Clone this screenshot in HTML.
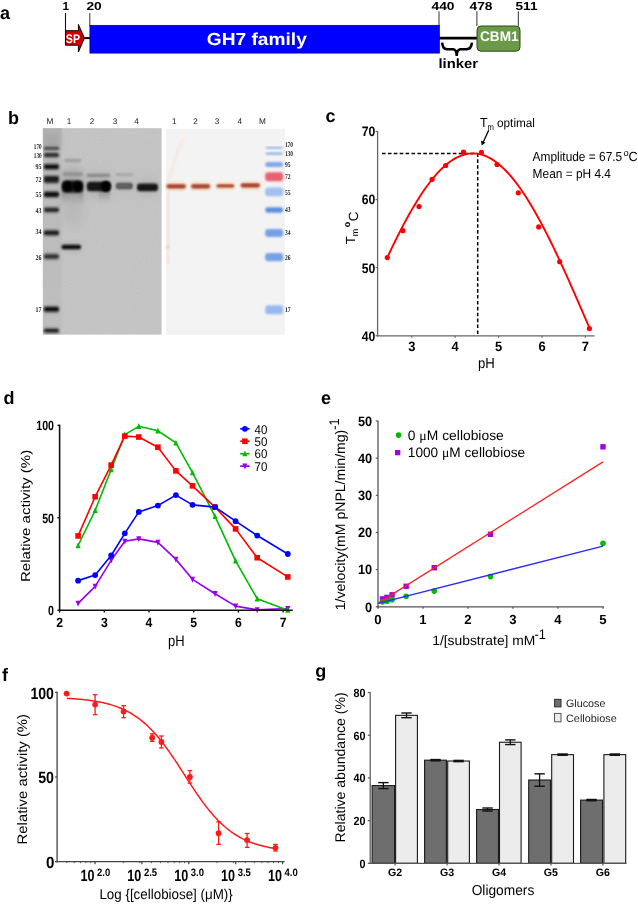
<!DOCTYPE html>
<html><head><meta charset="utf-8"><title>Figure</title>
<style>
html,body{margin:0;padding:0;background:#fff;}
body{width:638px;height:905px;overflow:hidden;}
svg{display:block;will-change:transform;font-family:"Liberation Sans", sans-serif;text-rendering:geometricPrecision;}
</style></head><body>
<svg width="638" height="905" viewBox="0 0 638 905">
<defs>
<filter id="b1" x="-20%" y="-50%" width="140%" height="200%"><feGaussianBlur stdDeviation="0.8"/></filter>
<filter id="b2" x="-20%" y="-80%" width="140%" height="260%"><feGaussianBlur stdDeviation="1.3"/></filter>
<filter id="b3" x="-30%" y="-30%" width="160%" height="160%"><feGaussianBlur stdDeviation="2.5"/></filter>
<filter id="b4" x="-30%" y="-30%" width="160%" height="160%"><feGaussianBlur stdDeviation="4"/></filter>
</defs>
<text x="0.00" y="19.10" font-size="18" font-weight="bold" text-anchor="start" fill="#000" >a</text>
<text x="8.00" y="123.80" font-size="18" font-weight="bold" text-anchor="start" fill="#000" >b</text>
<text x="325.60" y="122.30" font-size="18" font-weight="bold" text-anchor="start" fill="#000" >c</text>
<text x="3.60" y="403.80" font-size="18" font-weight="bold" text-anchor="start" fill="#000" >d</text>
<text x="321.00" y="403.80" font-size="18" font-weight="bold" text-anchor="start" fill="#000" >e</text>
<text x="2.00" y="680.70" font-size="18" font-weight="bold" text-anchor="start" fill="#000" >f</text>
<text x="315.30" y="677.00" font-size="18" font-weight="bold" text-anchor="start" fill="#000" >g</text>
<text x="65.90" y="10.30" font-size="11.6" font-weight="bold" text-anchor="middle" fill="#000" textLength="6.60" lengthAdjust="spacingAndGlyphs" >1</text>
<text x="94.10" y="10.30" font-size="11.6" font-weight="bold" text-anchor="middle" fill="#000" textLength="15.40" lengthAdjust="spacingAndGlyphs" >20</text>
<text x="443.00" y="10.30" font-size="11.6" font-weight="bold" text-anchor="middle" fill="#000" textLength="23.00" lengthAdjust="spacingAndGlyphs" >440</text>
<text x="481.00" y="10.30" font-size="11.6" font-weight="bold" text-anchor="middle" fill="#000" textLength="23.00" lengthAdjust="spacingAndGlyphs" >478</text>
<text x="526.50" y="10.30" font-size="11.6" font-weight="bold" text-anchor="middle" fill="#000" textLength="22.00" lengthAdjust="spacingAndGlyphs" >511</text>
<line x1="65.50" y1="13.00" x2="65.50" y2="45.20" stroke="#111" stroke-width="1.1" />
<line x1="89.80" y1="13.00" x2="89.80" y2="26.00" stroke="#333" stroke-width="1" />
<line x1="439.00" y1="11.30" x2="439.00" y2="26.00" stroke="#333" stroke-width="1" />
<line x1="476.90" y1="11.30" x2="476.90" y2="26.00" stroke="#333" stroke-width="1" />
<line x1="518.30" y1="11.30" x2="518.30" y2="26.00" stroke="#333" stroke-width="1" />
<rect x="89.90" y="25.30" width="349.50" height="27.80" fill="#0000ff" stroke="#000060" stroke-width="0.7"/>
<text x="256.80" y="45.00" font-size="17.4" font-weight="bold" text-anchor="middle" fill="#fff" textLength="100.00" lengthAdjust="spacingAndGlyphs" >GH7 family</text>
<polygon points="65.5,30.7 78.4,30.7 78.4,24.4 84.4,38.1 78.4,52.1 78.4,45.2 65.5,45.2" fill="#cc0000" stroke="#1a0000" stroke-width="1"/>
<text x="72.90" y="42.80" font-size="12.5" font-weight="bold" text-anchor="middle" fill="#fff" textLength="14.20" lengthAdjust="spacingAndGlyphs" >SP</text>
<line x1="84.40" y1="38.10" x2="90.00" y2="38.10" stroke="#000" stroke-width="2" />
<line x1="439.10" y1="38.20" x2="477.40" y2="38.20" stroke="#000" stroke-width="2.8" />
<path d="M442.2,42.6 C442.5,47.5 444,49.2 447,49.2 L453.2,49.3 C455.5,49.5 456.7,52 456.7,56 C456.8,52 458,49.5 460.3,49.3 L466.5,49.2 C469.5,49.2 471.5,47.5 471.9,42.6" fill="none" stroke="#000" stroke-width="2.5"/>
<text x="458.20" y="68.40" font-size="13.4" font-weight="bold" text-anchor="middle" fill="#000" textLength="39.50" lengthAdjust="spacingAndGlyphs" >linker</text>
<rect x="477.0" y="26.0" width="43.0" height="25.2" rx="4" ry="4" fill="#6a9a47" stroke="#2c4a1c" stroke-width="1"/>
<text x="499.30" y="41.00" font-size="14" font-weight="bold" text-anchor="middle" fill="#fff" textLength="38.50" lengthAdjust="spacingAndGlyphs" >CBM1</text>
<rect x="42.90" y="128.20" width="118.70" height="206.40" fill="#c5c5c5" />
<defs><linearGradient id="mlg" x1="0" y1="0" x2="0" y2="1"><stop offset="0" stop-color="#b0b0b0"/><stop offset="0.1" stop-color="#bcbcbc"/><stop offset="1" stop-color="#c0c0c0"/></linearGradient><clipPath id="gclip"><rect x="42.9" y="128.2" width="118.7" height="206.4"/></clipPath></defs>
<g clip-path="url(#gclip)">
<rect x="40" y="126" width="22" height="212" fill="url(#mlg)" filter="url(#b2)"/>
<filter id="gnoise" x="0" y="0" width="100%" height="100%"><feTurbulence type="fractalNoise" baseFrequency="0.9" numOctaves="1" seed="3" result="n"/><feColorMatrix in="n" type="matrix" values="0 0 0 0 0.45  0 0 0 0 0.45  0 0 0 0 0.45  0 0 0 -2.2 1.25"/></filter>
<rect x="42.6" y="128.2" width="119.0" height="206.4" filter="url(#gnoise)" opacity="0.35"/>
<defs><linearGradient id="tail" x1="0" y1="0" x2="0" y2="1"><stop offset="0" stop-color="#555" stop-opacity="0.9"/><stop offset="1" stop-color="#999" stop-opacity="0"/></linearGradient></defs>
<rect x="62" y="189" width="21" height="16" fill="url(#tail)" filter="url(#b2)"/>
<rect x="99" y="189" width="11" height="14" fill="url(#tail)" opacity="0.7" filter="url(#b2)"/>
<rect x="44" y="134" width="16" height="14" fill="#9a9a9a" opacity="0.5" filter="url(#b3)"/>
<rect x="62" y="168" width="21" height="35" rx="6" fill="#9a9a9a" opacity="0.55" filter="url(#b4)"/>
<rect x="62" y="195" width="21" height="30" fill="#b4b4b4" opacity="0.6" filter="url(#b4)"/>
<rect x="87" y="172" width="23" height="26" rx="6" fill="#a4a4a4" opacity="0.5" filter="url(#b4)"/>
<rect x="137" y="178" width="21" height="18" rx="6" fill="#acacac" opacity="0.45" filter="url(#b4)"/>
<rect x="116" y="178" width="17" height="16" rx="6" fill="#b4b4b4" opacity="0.4" filter="url(#b4)"/>
<rect x="62" y="242" width="20" height="10" rx="4" fill="#a8a8a8" opacity="0.5" filter="url(#b3)"/>
<rect x="43.4" y="145.20" width="16.0" height="6.40" rx="3" fill="#8a8a8a" opacity="0.7" filter="url(#b2)"/>
<rect x="44.0" y="147.20" width="14.8" height="2.40" rx="1.8" fill="#3a3a3a" filter="url(#b1)"/>
<rect x="43.4" y="151.60" width="16.0" height="7.00" rx="3" fill="#8a8a8a" opacity="0.7" filter="url(#b2)"/>
<rect x="44.0" y="153.60" width="14.8" height="3.00" rx="1.8" fill="#1c1c1c" filter="url(#b1)"/>
<rect x="43.4" y="162.50" width="16.0" height="8.60" rx="3" fill="#8a8a8a" opacity="0.7" filter="url(#b2)"/>
<rect x="44.0" y="164.50" width="14.8" height="4.60" rx="1.8" fill="#111" filter="url(#b1)"/>
<rect x="43.4" y="174.20" width="16.0" height="10.40" rx="3" fill="#8a8a8a" opacity="0.7" filter="url(#b2)"/>
<rect x="44.0" y="176.20" width="14.8" height="6.40" rx="1.8" fill="#1a1a1a" filter="url(#b1)"/>
<rect x="43.4" y="189.90" width="16.0" height="8.80" rx="3" fill="#8a8a8a" opacity="0.7" filter="url(#b2)"/>
<rect x="44.0" y="191.90" width="14.8" height="4.80" rx="1.8" fill="#080808" filter="url(#b1)"/>
<rect x="43.4" y="206.00" width="16.0" height="7.80" rx="3" fill="#8a8a8a" opacity="0.7" filter="url(#b2)"/>
<rect x="44.0" y="208.00" width="14.8" height="3.80" rx="1.8" fill="#222" filter="url(#b1)"/>
<rect x="43.4" y="228.70" width="16.0" height="8.40" rx="3" fill="#8a8a8a" opacity="0.7" filter="url(#b2)"/>
<rect x="44.0" y="230.70" width="14.8" height="4.40" rx="1.8" fill="#1a1a1a" filter="url(#b1)"/>
<rect x="43.4" y="252.40" width="16.0" height="8.00" rx="3" fill="#8a8a8a" opacity="0.7" filter="url(#b2)"/>
<rect x="44.0" y="254.40" width="14.8" height="4.00" rx="1.8" fill="#2e2e2e" filter="url(#b1)"/>
<rect x="43.4" y="305.00" width="16.0" height="8.60" rx="3" fill="#8a8a8a" opacity="0.7" filter="url(#b2)"/>
<rect x="44.0" y="307.00" width="14.8" height="4.60" rx="1.8" fill="#0e0e0e" filter="url(#b1)"/>
<rect x="43.4" y="327.00" width="16.0" height="7.20" rx="3" fill="#8a8a8a" opacity="0.7" filter="url(#b2)"/>
<rect x="44.0" y="329.00" width="14.8" height="3.20" rx="1.8" fill="#181818" filter="url(#b1)"/>
<rect x="64" y="158.8" width="17" height="3.4" rx="1.5" fill="#a0a0a0" filter="url(#b1)"/>
<rect x="62.5" y="172.4" width="20" height="3.4" rx="1.5" fill="#8e8e8e" filter="url(#b1)"/>
<rect x="61.8" y="180.6" width="21.4" height="11.8" rx="4" fill="#1a1a1a" filter="url(#b1)"/>
<ellipse cx="67.5" cy="186.4" rx="5" ry="5.2" fill="#000" filter="url(#b1)"/>
<ellipse cx="77.5" cy="186.4" rx="5" ry="5.2" fill="#000" filter="url(#b1)"/>
<rect x="61.5" y="244.8" width="19.5" height="4.4" rx="2" fill="#111" filter="url(#b1)"/>
<rect x="87" y="173.8" width="23" height="3.2" fill="#8a8a8a" filter="url(#b1)"/>
<rect x="86.8" y="181.8" width="23.5" height="9.4" rx="3.5" fill="#141414" filter="url(#b1)"/>
<ellipse cx="106" cy="186.3" rx="5" ry="5.6" fill="#000" filter="url(#b1)"/>
<rect x="116" y="173.2" width="17" height="2.8" fill="#a6a6a6" filter="url(#b1)"/>
<rect x="115.8" y="182.8" width="17" height="6.4" rx="2.5" fill="#555" filter="url(#b1)"/>
<rect x="118" y="184.8" width="12" height="2.2" rx="1" fill="#6a6a6a" filter="url(#b1)"/>
<rect x="137" y="183.6" width="21" height="7.6" rx="3" fill="#151515" filter="url(#b1)"/>
</g>
<text x="49.80" y="124.30" font-size="8.2" text-anchor="middle" fill="#222" >M</text>
<text x="69.00" y="124.30" font-size="8.2" text-anchor="middle" fill="#222" >1</text>
<text x="92.10" y="124.30" font-size="8.2" text-anchor="middle" fill="#222" >2</text>
<text x="115.10" y="124.30" font-size="8.2" text-anchor="middle" fill="#222" >3</text>
<text x="136.60" y="124.30" font-size="8.2" text-anchor="middle" fill="#222" >4</text>
<text x="41.60" y="149.30" font-size="7.4" font-weight="bold" text-anchor="end" fill="#222" textLength="7.80" lengthAdjust="spacingAndGlyphs" font-family="Liberation Serif, serif">170</text>
<text x="41.60" y="158.00" font-size="7.4" font-weight="bold" text-anchor="end" fill="#222" textLength="7.80" lengthAdjust="spacingAndGlyphs" font-family="Liberation Serif, serif">130</text>
<text x="41.60" y="169.30" font-size="7.4" font-weight="bold" text-anchor="end" fill="#222" textLength="6.00" lengthAdjust="spacingAndGlyphs" font-family="Liberation Serif, serif">95</text>
<text x="41.60" y="182.00" font-size="7.4" font-weight="bold" text-anchor="end" fill="#222" textLength="6.00" lengthAdjust="spacingAndGlyphs" font-family="Liberation Serif, serif">72</text>
<text x="41.60" y="196.80" font-size="7.4" font-weight="bold" text-anchor="end" fill="#222" textLength="6.00" lengthAdjust="spacingAndGlyphs" font-family="Liberation Serif, serif">55</text>
<text x="41.60" y="213.10" font-size="7.4" font-weight="bold" text-anchor="end" fill="#222" textLength="6.00" lengthAdjust="spacingAndGlyphs" font-family="Liberation Serif, serif">43</text>
<text x="41.60" y="234.20" font-size="7.4" font-weight="bold" text-anchor="end" fill="#222" textLength="6.00" lengthAdjust="spacingAndGlyphs" font-family="Liberation Serif, serif">34</text>
<text x="41.60" y="260.10" font-size="7.4" font-weight="bold" text-anchor="end" fill="#222" textLength="6.00" lengthAdjust="spacingAndGlyphs" font-family="Liberation Serif, serif">26</text>
<text x="41.60" y="311.80" font-size="7.4" font-weight="bold" text-anchor="end" fill="#222" textLength="6.00" lengthAdjust="spacingAndGlyphs" font-family="Liberation Serif, serif">17</text>
<rect x="165.80" y="128.60" width="119.20" height="206.20" fill="#f3f3f3" />
<rect x="166.4" y="192" width="3.5" height="72" fill="#efd6c4" opacity="0.4" filter="url(#b2)"/>
<path d="M168,182 L178,150 L184,138" stroke="#f0dccc" stroke-width="3" fill="none" opacity="0.35" filter="url(#b2)"/>
<circle cx="167.5" cy="247" r="1.5" fill="#e8b8a0" opacity="0.7" filter="url(#b1)"/>
<rect x="166.10" y="181.80" width="20.10" height="9.20" rx="3" fill="#f6e2c6" opacity="0.9" filter="url(#b2)"/>
<rect x="166.60" y="184.40" width="19.10" height="4.00" rx="2" fill="#ab4030" filter="url(#b1)"/>
<rect x="167.10" y="184.80" width="18.10" height="1.80" fill="#983828" opacity="0.6" filter="url(#b1)"/>
<rect x="190.70" y="181.80" width="19.80" height="9.20" rx="3" fill="#f6e2c6" opacity="0.9" filter="url(#b2)"/>
<rect x="191.20" y="184.40" width="18.80" height="4.00" rx="2" fill="#ab4030" filter="url(#b1)"/>
<rect x="191.70" y="184.80" width="17.80" height="1.80" fill="#983828" opacity="0.6" filter="url(#b1)"/>
<rect x="216.10" y="181.80" width="18.60" height="8.40" rx="3" fill="#f6e2c6" opacity="0.9" filter="url(#b2)"/>
<rect x="216.60" y="184.40" width="17.60" height="3.20" rx="2" fill="#ab4030" filter="url(#b1)"/>
<rect x="217.10" y="184.80" width="16.60" height="1.44" fill="#983828" opacity="0.6" filter="url(#b1)"/>
<rect x="240.30" y="180.90" width="20.00" height="9.20" rx="3" fill="#f6e2c6" opacity="0.9" filter="url(#b2)"/>
<rect x="240.80" y="183.50" width="19.00" height="4.00" rx="2" fill="#ab4030" filter="url(#b1)"/>
<rect x="241.30" y="183.90" width="18.00" height="1.80" fill="#983828" opacity="0.6" filter="url(#b1)"/>
<rect x="265.2" y="146.95" width="18" height="1.50" rx="3" fill="#6f9ce2" filter="url(#b1)"/>
<rect x="265.2" y="152.65" width="18" height="1.90" rx="3" fill="#6f9ce2" filter="url(#b1)"/>
<rect x="265.2" y="162.00" width="18" height="5.00" rx="3" fill="#80a8e8" filter="url(#b1)"/>
<rect x="265.2" y="172.20" width="18" height="9.00" rx="3" fill="#ea6070" filter="url(#b1)"/>
<rect x="265.2" y="187.40" width="18" height="8.80" rx="3" fill="#a2c0f0" filter="url(#b1)"/>
<rect x="265.2" y="207.20" width="18" height="5.60" rx="3" fill="#5f8edc" filter="url(#b1)"/>
<rect x="265.2" y="229.10" width="18" height="7.80" rx="3" fill="#76a0e6" filter="url(#b1)"/>
<rect x="265.2" y="253.10" width="18" height="8.20" rx="3" fill="#76a0e6" filter="url(#b1)"/>
<rect x="265.2" y="305.30" width="18" height="9.00" rx="3" fill="#98b9ef" filter="url(#b1)"/>
<text x="174.30" y="124.30" font-size="8.2" text-anchor="middle" fill="#222" >1</text>
<text x="195.50" y="124.30" font-size="8.2" text-anchor="middle" fill="#222" >2</text>
<text x="217.10" y="124.30" font-size="8.2" text-anchor="middle" fill="#222" >3</text>
<text x="239.90" y="124.30" font-size="8.2" text-anchor="middle" fill="#222" >4</text>
<text x="262.30" y="124.30" font-size="8.2" text-anchor="middle" fill="#222" >M</text>
<text x="284.90" y="146.90" font-size="7.4" font-weight="bold" text-anchor="start" fill="#222" textLength="8.20" lengthAdjust="spacingAndGlyphs" font-family="Liberation Serif, serif">170</text>
<text x="284.90" y="155.90" font-size="7.4" font-weight="bold" text-anchor="start" fill="#222" textLength="8.20" lengthAdjust="spacingAndGlyphs" font-family="Liberation Serif, serif">130</text>
<text x="284.90" y="167.10" font-size="7.4" font-weight="bold" text-anchor="start" fill="#222" textLength="5.60" lengthAdjust="spacingAndGlyphs" font-family="Liberation Serif, serif">95</text>
<text x="284.90" y="179.20" font-size="7.4" font-weight="bold" text-anchor="start" fill="#222" textLength="5.60" lengthAdjust="spacingAndGlyphs" font-family="Liberation Serif, serif">72</text>
<text x="284.90" y="194.60" font-size="7.4" font-weight="bold" text-anchor="start" fill="#222" textLength="5.60" lengthAdjust="spacingAndGlyphs" font-family="Liberation Serif, serif">55</text>
<text x="284.90" y="212.00" font-size="7.4" font-weight="bold" text-anchor="start" fill="#222" textLength="5.60" lengthAdjust="spacingAndGlyphs" font-family="Liberation Serif, serif">43</text>
<text x="284.90" y="234.50" font-size="7.4" font-weight="bold" text-anchor="start" fill="#222" textLength="5.60" lengthAdjust="spacingAndGlyphs" font-family="Liberation Serif, serif">34</text>
<text x="284.90" y="259.50" font-size="7.4" font-weight="bold" text-anchor="start" fill="#222" textLength="5.60" lengthAdjust="spacingAndGlyphs" font-family="Liberation Serif, serif">26</text>
<text x="284.90" y="311.50" font-size="7.4" font-weight="bold" text-anchor="start" fill="#222" textLength="5.60" lengthAdjust="spacingAndGlyphs" font-family="Liberation Serif, serif">17</text>
<line x1="377.60" y1="131.00" x2="377.60" y2="336.40" stroke="#666" stroke-width="1.3" />
<line x1="377.00" y1="335.80" x2="594.60" y2="335.80" stroke="#666" stroke-width="1.3" />
<line x1="375.60" y1="335.70" x2="377.60" y2="335.70" stroke="#666" stroke-width="1.2" />
<line x1="375.60" y1="267.63" x2="377.60" y2="267.63" stroke="#666" stroke-width="1.2" />
<line x1="375.60" y1="199.56" x2="377.60" y2="199.56" stroke="#666" stroke-width="1.2" />
<line x1="375.60" y1="131.49" x2="377.60" y2="131.49" stroke="#666" stroke-width="1.2" />
<line x1="411.80" y1="335.80" x2="411.80" y2="337.80" stroke="#666" stroke-width="1.2" />
<line x1="455.20" y1="335.80" x2="455.20" y2="337.80" stroke="#666" stroke-width="1.2" />
<line x1="498.60" y1="335.80" x2="498.60" y2="337.80" stroke="#666" stroke-width="1.2" />
<line x1="542.00" y1="335.80" x2="542.00" y2="337.80" stroke="#666" stroke-width="1.2" />
<line x1="585.40" y1="335.80" x2="585.40" y2="337.80" stroke="#666" stroke-width="1.2" />
<text x="375.40" y="340.60" font-size="13.7" font-weight="bold" text-anchor="end" fill="#000" textLength="13.60" lengthAdjust="spacingAndGlyphs" >40</text>
<text x="375.40" y="272.53" font-size="13.7" font-weight="bold" text-anchor="end" fill="#000" textLength="13.60" lengthAdjust="spacingAndGlyphs" >50</text>
<text x="375.40" y="204.46" font-size="13.7" font-weight="bold" text-anchor="end" fill="#000" textLength="13.60" lengthAdjust="spacingAndGlyphs" >60</text>
<text x="375.40" y="136.39" font-size="13.7" font-weight="bold" text-anchor="end" fill="#000" textLength="13.60" lengthAdjust="spacingAndGlyphs" >70</text>
<text x="411.80" y="350.90" font-size="13.6" font-weight="bold" text-anchor="middle" fill="#000" textLength="7.20" lengthAdjust="spacingAndGlyphs" >3</text>
<text x="455.20" y="350.90" font-size="13.6" font-weight="bold" text-anchor="middle" fill="#000" textLength="7.20" lengthAdjust="spacingAndGlyphs" >4</text>
<text x="498.60" y="350.90" font-size="13.6" font-weight="bold" text-anchor="middle" fill="#000" textLength="7.20" lengthAdjust="spacingAndGlyphs" >5</text>
<text x="542.00" y="350.90" font-size="13.6" font-weight="bold" text-anchor="middle" fill="#000" textLength="7.20" lengthAdjust="spacingAndGlyphs" >6</text>
<text x="585.40" y="350.90" font-size="13.6" font-weight="bold" text-anchor="middle" fill="#000" textLength="7.20" lengthAdjust="spacingAndGlyphs" >7</text>
<text x="486.40" y="367.90" font-size="14.5" text-anchor="middle" fill="#000" textLength="16.80" lengthAdjust="spacingAndGlyphs" >pH</text>
<text transform="translate(354.90,244.30) rotate(-90)" x="0" y="0" font-size="13.2" fill="#000">T</text>
<text transform="translate(357.90,236.20) rotate(-90)" x="0" y="0" font-size="9" fill="#000">m</text>
<text transform="translate(350.40,227.20) rotate(-90)" x="0" y="0" font-size="9" font-weight="bold" fill="#000">o</text>
<text transform="translate(357.90,221.20) rotate(-90)" x="0" y="0" font-size="13.4" fill="#000">C</text>
<line x1="382.00" y1="153.40" x2="477.70" y2="153.40" stroke="#000" stroke-width="1.5" stroke-dasharray="3.6 2.3"/>
<line x1="477.70" y1="153.40" x2="477.70" y2="335.00" stroke="#000" stroke-width="1.5" stroke-dasharray="3.6 2.3"/>
<polyline points="386.63,258.91 388.32,255.31 390.01,251.74 391.71,248.20 393.40,244.71 395.09,241.26 396.78,237.85 398.48,234.48 400.17,231.16 401.86,227.89 403.55,224.67 405.25,221.50 406.94,218.38 408.63,215.32 410.32,212.32 412.02,209.37 413.71,206.48 415.40,203.66 417.09,200.89 418.79,198.19 420.48,195.56 422.17,193.00 423.87,190.50 425.56,188.08 427.25,185.73 428.94,183.45 430.64,181.25 432.33,179.12 434.02,177.07 435.71,175.09 437.41,173.20 439.10,171.39 440.79,169.66 442.48,168.01 444.18,166.45 445.87,164.97 447.56,163.58 449.25,162.27 450.95,161.05 452.64,159.92 454.33,158.88 456.02,157.93 457.72,157.06 459.41,156.29 461.10,155.61 462.80,155.02 464.49,154.52 466.18,154.11 467.87,153.80 469.57,153.58 471.26,153.45 472.95,153.41 474.64,153.46 476.34,153.61 478.03,153.85 479.72,154.19 481.41,154.61 483.11,155.13 484.80,155.74 486.49,156.44 488.18,157.23 489.88,158.11 491.57,159.09 493.26,160.15 494.95,161.29 496.65,162.53 498.34,163.86 500.03,165.27 501.72,166.76 503.42,168.34 505.11,170.01 506.80,171.75 508.50,173.58 510.19,175.49 511.88,177.48 513.57,179.55 515.27,181.69 516.96,183.91 518.65,186.20 520.34,188.57 522.04,191.01 523.73,193.52 525.42,196.10 527.11,198.74 528.81,201.45 530.50,204.23 532.19,207.07 533.88,209.97 535.58,212.93 537.27,215.94 538.96,219.02 540.65,222.15 542.35,225.33 544.04,228.56 545.73,231.84 547.42,235.17 549.12,238.54 550.81,241.96 552.50,245.42 554.20,248.93 555.89,252.47 557.58,256.04 559.27,259.66 560.97,263.30 562.66,266.98 564.35,270.69 566.04,274.42 567.74,278.18 569.43,281.96 571.12,285.77 572.81,289.60 574.51,293.44 576.20,297.31 577.89,301.18 579.58,305.07 581.28,308.98 582.97,312.89 584.66,316.81 586.35,320.74 588.05,324.67 589.74,328.60" fill="none" stroke="#ff0000" stroke-width="1.9" stroke-linejoin="round" />
<circle cx="387.30" cy="257.60" r="2.6" fill="#ff0000"/>
<circle cx="402.80" cy="230.70" r="2.6" fill="#ff0000"/>
<circle cx="419.00" cy="206.60" r="2.6" fill="#ff0000"/>
<circle cx="432.10" cy="179.30" r="2.6" fill="#ff0000"/>
<circle cx="445.60" cy="165.50" r="2.6" fill="#ff0000"/>
<circle cx="463.50" cy="152.10" r="2.6" fill="#ff0000"/>
<circle cx="481.40" cy="152.40" r="2.6" fill="#ff0000"/>
<circle cx="497.00" cy="164.50" r="2.6" fill="#ff0000"/>
<circle cx="518.30" cy="192.80" r="2.6" fill="#ff0000"/>
<circle cx="538.70" cy="226.90" r="2.6" fill="#ff0000"/>
<circle cx="559.70" cy="261.70" r="2.6" fill="#ff0000"/>
<circle cx="589.40" cy="328.60" r="2.6" fill="#ff0000"/>
<text x="480.00" y="127.00" font-size="13" text-anchor="start" fill="#000" textLength="7.60" lengthAdjust="spacingAndGlyphs" >T</text>
<text x="487.60" y="130.00" font-size="8.8" text-anchor="start" fill="#000" textLength="6.40" lengthAdjust="spacingAndGlyphs" >m</text>
<text x="497.00" y="127.00" font-size="12.3" text-anchor="start" fill="#000" textLength="38.00" lengthAdjust="spacingAndGlyphs" >optimal</text>
<line x1="488.70" y1="130.30" x2="483.20" y2="142.20" stroke="#000" stroke-width="1.3" />
<polygon points="481.8,145.6 480.9,140.6 485.4,142.6" fill="#000"/>
<text x="532.60" y="160.70" font-size="13.2" text-anchor="start" fill="#000" textLength="89.60" lengthAdjust="spacingAndGlyphs" >Amplitude = 67.5</text>
<text x="623.40" y="156.40" font-size="9.5" text-anchor="start" fill="#000" textLength="5.20" lengthAdjust="spacingAndGlyphs" >o</text>
<text x="628.60" y="160.70" font-size="13.2" text-anchor="start" fill="#000" textLength="9.20" lengthAdjust="spacingAndGlyphs" >C</text>
<text x="532.60" y="178.40" font-size="13.0" text-anchor="start" fill="#000" textLength="78.40" lengthAdjust="spacingAndGlyphs" >Mean = pH 4.4</text>
<polyline points="78.10,603.36 95.18,586.36 111.18,560.30 124.82,541.27 138.81,538.87 157.89,542.38 175.91,559.38 192.49,579.34 215.02,593.75 235.58,606.13 257.22,609.83 287.79,608.54" fill="none" stroke="#9900ee" stroke-width="1.6" stroke-linejoin="round" />
<polygon points="78.10,606.66 80.68,600.72 75.53,600.72" fill="#9900ee"/>
<polygon points="95.18,589.66 97.75,583.72 92.60,583.72" fill="#9900ee"/>
<polygon points="111.18,563.60 113.76,557.66 108.61,557.66" fill="#9900ee"/>
<polygon points="124.82,544.57 127.39,538.63 122.24,538.63" fill="#9900ee"/>
<polygon points="138.81,542.17 141.38,536.23 136.23,536.23" fill="#9900ee"/>
<polygon points="157.89,545.68 160.47,539.74 155.32,539.74" fill="#9900ee"/>
<polygon points="175.91,562.68 178.48,556.74 173.33,556.74" fill="#9900ee"/>
<polygon points="192.49,582.64 195.06,576.70 189.92,576.70" fill="#9900ee"/>
<polygon points="215.02,597.05 217.59,591.11 212.45,591.11" fill="#9900ee"/>
<polygon points="235.58,609.43 238.16,603.49 233.01,603.49" fill="#9900ee"/>
<polygon points="257.22,613.13 259.79,607.19 254.64,607.19" fill="#9900ee"/>
<polygon points="287.79,611.84 290.37,605.90 285.22,605.90" fill="#9900ee"/>
<polyline points="78.10,545.52 95.18,510.41 111.18,469.57 124.82,434.64 138.81,426.32 157.89,430.76 175.91,442.96 192.49,472.71 215.02,516.32 235.58,560.86 257.22,598.74 287.79,610.20" fill="none" stroke="#00bb00" stroke-width="1.6" stroke-linejoin="round" />
<polygon points="78.10,542.22 80.68,548.16 75.53,548.16" fill="#00bb00"/>
<polygon points="95.18,507.11 97.75,513.05 92.60,513.05" fill="#00bb00"/>
<polygon points="111.18,466.27 113.76,472.21 108.61,472.21" fill="#00bb00"/>
<polygon points="124.82,431.34 127.39,437.28 122.24,437.28" fill="#00bb00"/>
<polygon points="138.81,423.02 141.38,428.96 136.23,428.96" fill="#00bb00"/>
<polygon points="157.89,427.46 160.47,433.40 155.32,433.40" fill="#00bb00"/>
<polygon points="175.91,439.66 178.48,445.60 173.33,445.60" fill="#00bb00"/>
<polygon points="192.49,469.41 195.06,475.35 189.92,475.35" fill="#00bb00"/>
<polygon points="215.02,513.02 217.59,518.96 212.45,518.96" fill="#00bb00"/>
<polygon points="235.58,557.56 238.16,563.50 233.01,563.50" fill="#00bb00"/>
<polygon points="257.22,595.44 259.79,601.38 254.64,601.38" fill="#00bb00"/>
<polygon points="287.79,606.90 290.37,612.84 285.22,612.84" fill="#00bb00"/>
<polyline points="78.10,535.91 95.18,496.73 111.18,465.13 124.82,436.12 138.81,437.04 157.89,447.21 175.91,470.86 192.49,485.83 215.02,507.08 235.58,528.89 257.22,557.72 287.79,576.94" fill="none" stroke="#ff0000" stroke-width="1.6" stroke-linejoin="round" />
<rect x="75.30" y="533.11" width="5.60" height="5.60" fill="#ff0000"/>
<rect x="92.38" y="493.93" width="5.60" height="5.60" fill="#ff0000"/>
<rect x="108.38" y="462.33" width="5.60" height="5.60" fill="#ff0000"/>
<rect x="122.02" y="433.32" width="5.60" height="5.60" fill="#ff0000"/>
<rect x="136.01" y="434.24" width="5.60" height="5.60" fill="#ff0000"/>
<rect x="155.09" y="444.41" width="5.60" height="5.60" fill="#ff0000"/>
<rect x="173.11" y="468.06" width="5.60" height="5.60" fill="#ff0000"/>
<rect x="189.69" y="483.03" width="5.60" height="5.60" fill="#ff0000"/>
<rect x="212.22" y="504.28" width="5.60" height="5.60" fill="#ff0000"/>
<rect x="232.78" y="526.09" width="5.60" height="5.60" fill="#ff0000"/>
<rect x="254.42" y="554.92" width="5.60" height="5.60" fill="#ff0000"/>
<rect x="284.99" y="574.14" width="5.60" height="5.60" fill="#ff0000"/>
<polyline points="78.10,580.63 95.18,575.09 111.18,555.50 124.82,533.32 138.81,511.89 157.89,505.60 175.91,495.07 192.49,504.86 215.02,507.08 235.58,521.13 257.22,535.54 287.79,554.02" fill="none" stroke="#0000ff" stroke-width="1.6" stroke-linejoin="round" />
<circle cx="78.10" cy="580.63" r="2.90" fill="#0000ff"/>
<circle cx="95.18" cy="575.09" r="2.90" fill="#0000ff"/>
<circle cx="111.18" cy="555.50" r="2.90" fill="#0000ff"/>
<circle cx="124.82" cy="533.32" r="2.90" fill="#0000ff"/>
<circle cx="138.81" cy="511.89" r="2.90" fill="#0000ff"/>
<circle cx="157.89" cy="505.60" r="2.90" fill="#0000ff"/>
<circle cx="175.91" cy="495.07" r="2.90" fill="#0000ff"/>
<circle cx="192.49" cy="504.86" r="2.90" fill="#0000ff"/>
<circle cx="215.02" cy="507.08" r="2.90" fill="#0000ff"/>
<circle cx="235.58" cy="521.13" r="2.90" fill="#0000ff"/>
<circle cx="257.22" cy="535.54" r="2.90" fill="#0000ff"/>
<circle cx="287.79" cy="554.02" r="2.90" fill="#0000ff"/>
<line x1="59.60" y1="424.60" x2="59.60" y2="611.00" stroke="#111" stroke-width="1.6" />
<line x1="58.80" y1="610.20" x2="292.80" y2="610.20" stroke="#111" stroke-width="1.6" />
<line x1="57.40" y1="610.20" x2="59.60" y2="610.20" stroke="#111" stroke-width="1.4" />
<line x1="57.40" y1="517.80" x2="59.60" y2="517.80" stroke="#111" stroke-width="1.4" />
<line x1="57.40" y1="425.40" x2="59.60" y2="425.40" stroke="#111" stroke-width="1.4" />
<line x1="59.60" y1="610.20" x2="59.60" y2="612.60" stroke="#111" stroke-width="1.4" />
<line x1="104.30" y1="610.20" x2="104.30" y2="612.60" stroke="#111" stroke-width="1.4" />
<line x1="149.00" y1="610.20" x2="149.00" y2="612.60" stroke="#111" stroke-width="1.4" />
<line x1="193.70" y1="610.20" x2="193.70" y2="612.60" stroke="#111" stroke-width="1.4" />
<line x1="238.40" y1="610.20" x2="238.40" y2="612.60" stroke="#111" stroke-width="1.4" />
<line x1="283.10" y1="610.20" x2="283.10" y2="612.60" stroke="#111" stroke-width="1.4" />
<text x="54.00" y="614.90" font-size="13.4" font-weight="bold" text-anchor="end" fill="#000" textLength="5.90" lengthAdjust="spacingAndGlyphs" >0</text>
<text x="54.00" y="522.50" font-size="13.4" font-weight="bold" text-anchor="end" fill="#000" textLength="11.80" lengthAdjust="spacingAndGlyphs" >50</text>
<text x="54.00" y="430.10" font-size="13.4" font-weight="bold" text-anchor="end" fill="#000" textLength="17.70" lengthAdjust="spacingAndGlyphs" >100</text>
<text x="59.60" y="626.70" font-size="13.4" font-weight="bold" text-anchor="middle" fill="#000" textLength="6.80" lengthAdjust="spacingAndGlyphs" >2</text>
<text x="104.30" y="626.70" font-size="13.4" font-weight="bold" text-anchor="middle" fill="#000" textLength="6.80" lengthAdjust="spacingAndGlyphs" >3</text>
<text x="149.00" y="626.70" font-size="13.4" font-weight="bold" text-anchor="middle" fill="#000" textLength="6.80" lengthAdjust="spacingAndGlyphs" >4</text>
<text x="193.70" y="626.70" font-size="13.4" font-weight="bold" text-anchor="middle" fill="#000" textLength="6.80" lengthAdjust="spacingAndGlyphs" >5</text>
<text x="238.40" y="626.70" font-size="13.4" font-weight="bold" text-anchor="middle" fill="#000" textLength="6.80" lengthAdjust="spacingAndGlyphs" >6</text>
<text x="283.10" y="626.70" font-size="13.4" font-weight="bold" text-anchor="middle" fill="#000" textLength="6.80" lengthAdjust="spacingAndGlyphs" >7</text>
<text x="176.40" y="646.00" font-size="15.4" text-anchor="middle" fill="#000" textLength="16.60" lengthAdjust="spacingAndGlyphs" >pH</text>
<text transform="translate(30.2,582.0) rotate(-90) scale(1,0.92)" x="0" y="0" font-size="14" fill="#000" textLength="132.2" lengthAdjust="spacingAndGlyphs">Relative activity (%)</text>
<line x1="240.20" y1="428.80" x2="249.60" y2="428.80" stroke="#0000ff" stroke-width="1.7" />
<circle cx="244.90" cy="428.80" r="2.90" fill="#0000ff"/>
<text x="254.60" y="433.50" font-size="12.6" text-anchor="start" fill="#000" textLength="12.80" lengthAdjust="spacingAndGlyphs" >40</text>
<line x1="240.20" y1="441.25" x2="249.60" y2="441.25" stroke="#ff0000" stroke-width="1.7" />
<rect x="242.10" y="438.45" width="5.60" height="5.60" fill="#ff0000"/>
<text x="254.60" y="445.95" font-size="12.6" text-anchor="start" fill="#000" textLength="12.80" lengthAdjust="spacingAndGlyphs" >50</text>
<line x1="240.20" y1="453.70" x2="249.60" y2="453.70" stroke="#00bb00" stroke-width="1.7" />
<polygon points="244.90,450.40 247.47,456.34 242.33,456.34" fill="#00bb00"/>
<text x="254.60" y="458.40" font-size="12.6" text-anchor="start" fill="#000" textLength="12.80" lengthAdjust="spacingAndGlyphs" >60</text>
<line x1="240.20" y1="466.15" x2="249.60" y2="466.15" stroke="#9900ee" stroke-width="1.7" />
<polygon points="244.90,469.45 247.47,463.51 242.33,463.51" fill="#9900ee"/>
<text x="254.60" y="470.85" font-size="12.6" text-anchor="start" fill="#000" textLength="12.80" lengthAdjust="spacingAndGlyphs" >70</text>
<rect x="379.80" y="596.20" width="5.4" height="5.4" fill="#a000e8"/>
<rect x="384.30" y="594.72" width="5.4" height="5.4" fill="#a000e8"/>
<rect x="389.36" y="592.12" width="5.4" height="5.4" fill="#a000e8"/>
<rect x="403.43" y="583.57" width="5.4" height="5.4" fill="#a000e8"/>
<rect x="431.55" y="565.00" width="5.4" height="5.4" fill="#a000e8"/>
<rect x="487.80" y="531.58" width="5.4" height="5.4" fill="#a000e8"/>
<rect x="600.30" y="444.11" width="5.4" height="5.4" fill="#a000e8"/>
<circle cx="382.50" cy="601.87" r="2.8" fill="#00bb00"/>
<circle cx="387.00" cy="601.31" r="2.8" fill="#00bb00"/>
<circle cx="392.06" cy="599.64" r="2.8" fill="#00bb00"/>
<circle cx="406.12" cy="596.30" r="2.8" fill="#00bb00"/>
<circle cx="434.25" cy="591.10" r="2.8" fill="#00bb00"/>
<circle cx="490.50" cy="576.62" r="2.8" fill="#00bb00"/>
<circle cx="603.00" cy="543.19" r="2.8" fill="#00bb00"/>
<line x1="378.00" y1="603.36" x2="603.00" y2="461.85" stroke="#ff2020" stroke-width="1.3" />
<line x1="378.00" y1="603.36" x2="603.00" y2="546.16" stroke="#2a2aff" stroke-width="1.4" />
<line x1="378.00" y1="420.80" x2="378.00" y2="607.40" stroke="#555" stroke-width="1.3" />
<line x1="377.40" y1="606.80" x2="603.80" y2="606.80" stroke="#555" stroke-width="1.3" />
<line x1="378.60" y1="606.10" x2="603.00" y2="606.10" stroke="#6a6aff" stroke-width="0.5" opacity="0.3" stroke-dasharray="1 1.5"/>
<line x1="375.80" y1="606.70" x2="378.00" y2="606.70" stroke="#555" stroke-width="1.2" />
<text x="372.20" y="611.60" font-size="13.6" font-weight="bold" text-anchor="end" fill="#000" textLength="7.10" lengthAdjust="spacingAndGlyphs" >0</text>
<line x1="375.80" y1="569.56" x2="378.00" y2="569.56" stroke="#555" stroke-width="1.2" />
<text x="372.20" y="574.46" font-size="13.6" font-weight="bold" text-anchor="end" fill="#000" textLength="14.20" lengthAdjust="spacingAndGlyphs" >10</text>
<line x1="375.80" y1="532.42" x2="378.00" y2="532.42" stroke="#555" stroke-width="1.2" />
<text x="372.20" y="537.32" font-size="13.6" font-weight="bold" text-anchor="end" fill="#000" textLength="14.20" lengthAdjust="spacingAndGlyphs" >20</text>
<line x1="375.80" y1="495.28" x2="378.00" y2="495.28" stroke="#555" stroke-width="1.2" />
<text x="372.20" y="500.18" font-size="13.6" font-weight="bold" text-anchor="end" fill="#000" textLength="14.20" lengthAdjust="spacingAndGlyphs" >30</text>
<line x1="375.80" y1="458.14" x2="378.00" y2="458.14" stroke="#555" stroke-width="1.2" />
<text x="372.20" y="463.04" font-size="13.6" font-weight="bold" text-anchor="end" fill="#000" textLength="14.20" lengthAdjust="spacingAndGlyphs" >40</text>
<line x1="375.80" y1="421.00" x2="378.00" y2="421.00" stroke="#555" stroke-width="1.2" />
<text x="372.20" y="425.90" font-size="13.6" font-weight="bold" text-anchor="end" fill="#000" textLength="14.20" lengthAdjust="spacingAndGlyphs" >50</text>
<line x1="378.00" y1="606.80" x2="378.00" y2="608.80" stroke="#555" stroke-width="1.2" />
<text x="378.00" y="623.60" font-size="13.2" font-weight="bold" text-anchor="middle" fill="#000" textLength="7.30" lengthAdjust="spacingAndGlyphs" >0</text>
<line x1="423.00" y1="606.80" x2="423.00" y2="608.80" stroke="#555" stroke-width="1.2" />
<text x="423.00" y="623.60" font-size="13.2" font-weight="bold" text-anchor="middle" fill="#000" textLength="7.30" lengthAdjust="spacingAndGlyphs" >1</text>
<line x1="468.00" y1="606.80" x2="468.00" y2="608.80" stroke="#555" stroke-width="1.2" />
<text x="468.00" y="623.60" font-size="13.2" font-weight="bold" text-anchor="middle" fill="#000" textLength="7.30" lengthAdjust="spacingAndGlyphs" >2</text>
<line x1="513.00" y1="606.80" x2="513.00" y2="608.80" stroke="#555" stroke-width="1.2" />
<text x="513.00" y="623.60" font-size="13.2" font-weight="bold" text-anchor="middle" fill="#000" textLength="7.30" lengthAdjust="spacingAndGlyphs" >3</text>
<line x1="558.00" y1="606.80" x2="558.00" y2="608.80" stroke="#555" stroke-width="1.2" />
<text x="558.00" y="623.60" font-size="13.2" font-weight="bold" text-anchor="middle" fill="#000" textLength="7.30" lengthAdjust="spacingAndGlyphs" >4</text>
<line x1="603.00" y1="606.80" x2="603.00" y2="608.80" stroke="#555" stroke-width="1.2" />
<text x="603.00" y="623.60" font-size="13.2" font-weight="bold" text-anchor="middle" fill="#000" textLength="7.30" lengthAdjust="spacingAndGlyphs" >5</text>
<text x="432.20" y="644.90" font-size="13.6" text-anchor="start" fill="#000" textLength="103.20" lengthAdjust="spacingAndGlyphs" >1/[substrate] mM</text>
<text x="534.60" y="638.60" font-size="14" text-anchor="start" fill="#000" textLength="11.40" lengthAdjust="spacingAndGlyphs" >-1</text>
<text transform="translate(344.8,610.2) rotate(-90)" x="0" y="0" font-size="13.8" fill="#000" textLength="180.5" lengthAdjust="spacingAndGlyphs">1/velocity(mM pNPL/min/mg)</text>
<text transform="translate(338.6,429.8) rotate(-90)" x="0" y="0" font-size="14" fill="#000" textLength="11.2" lengthAdjust="spacingAndGlyphs">-1</text>
<circle cx="398.6" cy="435.1" r="2.8" fill="#00bb00"/>
<rect x="395.0" y="450.0" width="5.3" height="5.3" fill="#a000e8"/>
<text x="407.80" y="439.80" font-size="13.7" text-anchor="start" fill="#000" textLength="96.00" lengthAdjust="spacingAndGlyphs" >0 <tspan font-family="Liberation Serif, serif">&#956;</tspan>M cellobiose</text>
<text x="407.80" y="457.30" font-size="13.7" text-anchor="start" fill="#000" textLength="117.40" lengthAdjust="spacingAndGlyphs" >1000 <tspan font-family="Liberation Serif, serif">&#956;</tspan>M cellobiose</text>
<polyline points="66.86,698.33 68.35,698.42 69.83,698.51 71.32,698.60 72.81,698.70 74.30,698.81 75.78,698.92 77.27,699.04 78.76,699.17 80.25,699.30 81.73,699.45 83.22,699.60 84.71,699.76 86.20,699.93 87.68,700.11 89.17,700.30 90.66,700.50 92.15,700.71 93.63,700.94 95.12,701.18 96.61,701.43 98.10,701.70 99.58,701.98 101.07,702.28 102.56,702.59 104.05,702.93 105.53,703.28 107.02,703.65 108.51,704.04 109.99,704.46 111.48,704.90 112.97,705.36 114.46,705.85 115.94,706.36 117.43,706.90 118.92,707.47 120.41,708.07 121.89,708.70 123.38,709.37 124.87,710.07 126.36,710.80 127.84,711.57 129.33,712.38 130.82,713.23 132.31,714.12 133.79,715.05 135.28,716.03 136.77,717.05 138.26,718.11 139.74,719.23 141.23,720.39 142.72,721.60 144.20,722.86 145.69,724.17 147.18,725.54 148.67,726.95 150.15,728.42 151.64,729.95 153.13,731.52 154.62,733.15 156.10,734.83 157.59,736.57 159.08,738.35 160.57,740.19 162.05,742.07 163.54,744.00 165.03,745.98 166.52,748.00 168.00,750.07 169.49,752.17 170.98,754.31 172.47,756.48 173.95,758.69 175.44,760.92 176.93,763.17 178.41,765.45 179.90,767.74 181.39,770.04 182.88,772.35 184.36,774.67 185.85,776.98 187.34,779.29 188.83,781.60 190.31,783.89 191.80,786.16 193.29,788.42 194.78,790.65 196.26,792.86 197.75,795.03 199.24,797.17 200.73,799.27 202.21,801.34 203.70,803.36 205.19,805.34 206.68,807.27 208.16,809.16 209.65,811.00 211.14,812.78 212.63,814.52 214.11,816.20 215.60,817.83 217.09,819.41 218.57,820.93 220.06,822.40 221.55,823.82 223.04,825.18 224.52,826.50 226.01,827.76 227.50,828.97 228.99,830.13 230.47,831.25 231.96,832.32 233.45,833.34 234.94,834.31 236.42,835.25 237.91,836.14 239.40,836.99 240.89,837.80 242.37,838.57 243.86,839.30 245.35,840.00 246.84,840.67 248.32,841.30 249.81,841.90 251.30,842.47 252.78,843.01 254.27,843.53 255.76,844.01 257.25,844.48 258.73,844.92 260.22,845.33 261.71,845.72 263.20,846.10 264.68,846.45 266.17,846.78 267.66,847.10 269.15,847.40 270.63,847.68 272.12,847.95 273.61,848.20 275.10,848.44" fill="none" stroke="#ff1a1a" stroke-width="1.5" stroke-linejoin="round" />
<circle cx="66.60" cy="693.60" r="2.9" fill="#ff1a1a"/>
<line x1="95.10" y1="694.70" x2="95.10" y2="714.70" stroke="#ff1a1a" stroke-width="1.3" />
<line x1="92.80" y1="694.70" x2="97.40" y2="694.70" stroke="#ff1a1a" stroke-width="1.3" />
<line x1="92.80" y1="714.70" x2="97.40" y2="714.70" stroke="#ff1a1a" stroke-width="1.3" />
<circle cx="95.10" cy="704.60" r="2.9" fill="#ff1a1a"/>
<line x1="123.60" y1="705.70" x2="123.60" y2="717.70" stroke="#ff1a1a" stroke-width="1.3" />
<line x1="121.30" y1="705.70" x2="125.90" y2="705.70" stroke="#ff1a1a" stroke-width="1.3" />
<line x1="121.30" y1="717.70" x2="125.90" y2="717.70" stroke="#ff1a1a" stroke-width="1.3" />
<circle cx="123.60" cy="711.40" r="2.9" fill="#ff1a1a"/>
<line x1="152.20" y1="733.80" x2="152.20" y2="741.40" stroke="#ff1a1a" stroke-width="1.3" />
<line x1="149.90" y1="733.80" x2="154.50" y2="733.80" stroke="#ff1a1a" stroke-width="1.3" />
<line x1="149.90" y1="741.40" x2="154.50" y2="741.40" stroke="#ff1a1a" stroke-width="1.3" />
<circle cx="152.20" cy="737.70" r="2.9" fill="#ff1a1a"/>
<line x1="161.40" y1="736.00" x2="161.40" y2="748.00" stroke="#ff1a1a" stroke-width="1.3" />
<line x1="159.10" y1="736.00" x2="163.70" y2="736.00" stroke="#ff1a1a" stroke-width="1.3" />
<line x1="159.10" y1="748.00" x2="163.70" y2="748.00" stroke="#ff1a1a" stroke-width="1.3" />
<circle cx="161.40" cy="741.90" r="2.9" fill="#ff1a1a"/>
<line x1="189.90" y1="770.60" x2="189.90" y2="783.10" stroke="#ff1a1a" stroke-width="1.3" />
<line x1="187.60" y1="770.60" x2="192.20" y2="770.60" stroke="#ff1a1a" stroke-width="1.3" />
<line x1="187.60" y1="783.10" x2="192.20" y2="783.10" stroke="#ff1a1a" stroke-width="1.3" />
<circle cx="189.90" cy="777.00" r="2.9" fill="#ff1a1a"/>
<line x1="218.60" y1="821.90" x2="218.60" y2="844.40" stroke="#ff1a1a" stroke-width="1.3" />
<line x1="216.30" y1="821.90" x2="220.90" y2="821.90" stroke="#ff1a1a" stroke-width="1.3" />
<line x1="216.30" y1="844.40" x2="220.90" y2="844.40" stroke="#ff1a1a" stroke-width="1.3" />
<circle cx="218.60" cy="833.20" r="2.9" fill="#ff1a1a"/>
<line x1="247.10" y1="833.50" x2="247.10" y2="847.30" stroke="#ff1a1a" stroke-width="1.3" />
<line x1="244.80" y1="833.50" x2="249.40" y2="833.50" stroke="#ff1a1a" stroke-width="1.3" />
<line x1="244.80" y1="847.30" x2="249.40" y2="847.30" stroke="#ff1a1a" stroke-width="1.3" />
<circle cx="247.10" cy="840.10" r="2.9" fill="#ff1a1a"/>
<line x1="275.50" y1="844.40" x2="275.50" y2="851.00" stroke="#ff1a1a" stroke-width="1.3" />
<line x1="273.20" y1="844.40" x2="277.80" y2="844.40" stroke="#ff1a1a" stroke-width="1.3" />
<line x1="273.20" y1="851.00" x2="277.80" y2="851.00" stroke="#ff1a1a" stroke-width="1.3" />
<circle cx="275.50" cy="847.80" r="2.9" fill="#ff1a1a"/>
<line x1="57.10" y1="691.80" x2="57.10" y2="862.30" stroke="#444" stroke-width="1.3" />
<line x1="56.50" y1="861.70" x2="284.60" y2="861.70" stroke="#444" stroke-width="1.3" />
<line x1="55.00" y1="861.70" x2="57.10" y2="861.70" stroke="#444" stroke-width="1.2" />
<line x1="55.00" y1="777.00" x2="57.10" y2="777.00" stroke="#444" stroke-width="1.2" />
<line x1="55.00" y1="692.30" x2="57.10" y2="692.30" stroke="#444" stroke-width="1.2" />
<line x1="66.76" y1="861.70" x2="66.76" y2="863.20" stroke="#444" stroke-width="0.8" />
<line x1="74.19" y1="861.70" x2="74.19" y2="863.20" stroke="#444" stroke-width="0.8" />
<line x1="80.47" y1="861.70" x2="80.47" y2="863.20" stroke="#444" stroke-width="0.8" />
<line x1="85.91" y1="861.70" x2="85.91" y2="863.20" stroke="#444" stroke-width="0.8" />
<line x1="90.71" y1="861.70" x2="90.71" y2="863.20" stroke="#444" stroke-width="0.8" />
<line x1="95.00" y1="861.70" x2="95.00" y2="864.20" stroke="#444" stroke-width="1.2" />
<line x1="123.24" y1="861.70" x2="123.24" y2="863.20" stroke="#444" stroke-width="0.8" />
<line x1="139.75" y1="861.70" x2="139.75" y2="863.20" stroke="#444" stroke-width="0.8" />
<line x1="151.47" y1="861.70" x2="151.47" y2="863.20" stroke="#444" stroke-width="0.8" />
<line x1="160.56" y1="861.70" x2="160.56" y2="863.20" stroke="#444" stroke-width="0.8" />
<line x1="167.99" y1="861.70" x2="167.99" y2="863.20" stroke="#444" stroke-width="0.8" />
<line x1="174.27" y1="861.70" x2="174.27" y2="863.20" stroke="#444" stroke-width="0.8" />
<line x1="179.71" y1="861.70" x2="179.71" y2="863.20" stroke="#444" stroke-width="0.8" />
<line x1="184.51" y1="861.70" x2="184.51" y2="863.20" stroke="#444" stroke-width="0.8" />
<line x1="188.80" y1="861.70" x2="188.80" y2="864.20" stroke="#444" stroke-width="1.2" />
<line x1="217.04" y1="861.70" x2="217.04" y2="863.20" stroke="#444" stroke-width="0.8" />
<line x1="233.55" y1="861.70" x2="233.55" y2="863.20" stroke="#444" stroke-width="0.8" />
<line x1="245.27" y1="861.70" x2="245.27" y2="863.20" stroke="#444" stroke-width="0.8" />
<line x1="254.36" y1="861.70" x2="254.36" y2="863.20" stroke="#444" stroke-width="0.8" />
<line x1="261.79" y1="861.70" x2="261.79" y2="863.20" stroke="#444" stroke-width="0.8" />
<line x1="268.07" y1="861.70" x2="268.07" y2="863.20" stroke="#444" stroke-width="0.8" />
<line x1="273.51" y1="861.70" x2="273.51" y2="863.20" stroke="#444" stroke-width="0.8" />
<line x1="278.31" y1="861.70" x2="278.31" y2="863.20" stroke="#444" stroke-width="0.8" />
<line x1="141.90" y1="861.70" x2="141.90" y2="864.20" stroke="#444" stroke-width="1.2" />
<line x1="235.70" y1="861.70" x2="235.70" y2="864.20" stroke="#444" stroke-width="1.2" />
<line x1="282.60" y1="861.70" x2="282.60" y2="864.20" stroke="#444" stroke-width="1.2" />
<text x="54.00" y="698.50" font-size="16.3" font-weight="bold" text-anchor="end" fill="#000" textLength="23.60" lengthAdjust="spacingAndGlyphs" >100</text>
<text x="54.00" y="783.00" font-size="16.3" font-weight="bold" text-anchor="end" fill="#000" textLength="15.80" lengthAdjust="spacingAndGlyphs" >50</text>
<text x="54.40" y="867.80" font-size="16.3" font-weight="bold" text-anchor="end" fill="#000" textLength="8.40" lengthAdjust="spacingAndGlyphs" >0</text>
<text x="94.40" y="880.50" font-size="16.2" font-weight="bold" text-anchor="end" fill="#000" textLength="14.00" lengthAdjust="spacingAndGlyphs" >10</text>
<text x="97.00" y="875.80" font-size="10.8" font-weight="bold" text-anchor="start" fill="#000" textLength="13.20" lengthAdjust="spacingAndGlyphs" >2.0</text>
<text x="141.30" y="880.50" font-size="16.2" font-weight="bold" text-anchor="end" fill="#000" textLength="14.00" lengthAdjust="spacingAndGlyphs" >10</text>
<text x="143.90" y="875.80" font-size="10.8" font-weight="bold" text-anchor="start" fill="#000" textLength="13.20" lengthAdjust="spacingAndGlyphs" >2.5</text>
<text x="188.20" y="880.50" font-size="16.2" font-weight="bold" text-anchor="end" fill="#000" textLength="14.00" lengthAdjust="spacingAndGlyphs" >10</text>
<text x="190.80" y="875.80" font-size="10.8" font-weight="bold" text-anchor="start" fill="#000" textLength="13.20" lengthAdjust="spacingAndGlyphs" >3.0</text>
<text x="235.10" y="880.50" font-size="16.2" font-weight="bold" text-anchor="end" fill="#000" textLength="14.00" lengthAdjust="spacingAndGlyphs" >10</text>
<text x="237.70" y="875.80" font-size="10.8" font-weight="bold" text-anchor="start" fill="#000" textLength="13.20" lengthAdjust="spacingAndGlyphs" >3.5</text>
<text x="282.00" y="880.50" font-size="16.2" font-weight="bold" text-anchor="end" fill="#000" textLength="14.00" lengthAdjust="spacingAndGlyphs" >10</text>
<text x="284.60" y="875.80" font-size="10.8" font-weight="bold" text-anchor="start" fill="#000" textLength="13.20" lengthAdjust="spacingAndGlyphs" >4.0</text>
<text x="99.40" y="899.40" font-size="14.2" text-anchor="start" fill="#000" textLength="133.40" lengthAdjust="spacingAndGlyphs" >Log {[cellobiose] (&#956;M)}</text>
<text transform="translate(26.6,844.4) rotate(-90)" x="0" y="0" font-size="13.8" fill="#000" textLength="130.4" lengthAdjust="spacingAndGlyphs">Relative activity (%)</text>
<rect x="372.10" y="785.59" width="22.50" height="77.71" fill="#6e6e6e" stroke="#1a1a1a" stroke-width="1.1"/>
<rect x="395.60" y="715.34" width="21.80" height="147.96" fill="#ececec" stroke="#1a1a1a" stroke-width="1.1"/>
<rect x="424.60" y="760.18" width="21.80" height="103.12" fill="#6e6e6e" stroke="#1a1a1a" stroke-width="1.1"/>
<rect x="447.70" y="761.03" width="21.70" height="102.27" fill="#ececec" stroke="#1a1a1a" stroke-width="1.1"/>
<rect x="476.60" y="809.50" width="21.90" height="53.80" fill="#6e6e6e" stroke="#1a1a1a" stroke-width="1.1"/>
<rect x="499.50" y="742.25" width="21.60" height="121.05" fill="#ececec" stroke="#1a1a1a" stroke-width="1.1"/>
<rect x="528.70" y="780.03" width="21.80" height="83.26" fill="#6e6e6e" stroke="#1a1a1a" stroke-width="1.1"/>
<rect x="551.70" y="754.63" width="21.80" height="108.67" fill="#ececec" stroke="#1a1a1a" stroke-width="1.1"/>
<rect x="580.60" y="800.10" width="21.90" height="63.20" fill="#6e6e6e" stroke="#1a1a1a" stroke-width="1.1"/>
<rect x="603.90" y="754.63" width="21.80" height="108.67" fill="#ececec" stroke="#1a1a1a" stroke-width="1.1"/>
<line x1="383.35" y1="782.60" x2="383.35" y2="788.57" stroke="#111" stroke-width="1.3" />
<line x1="378.15" y1="782.60" x2="388.55" y2="782.60" stroke="#111" stroke-width="1.4" />
<line x1="378.15" y1="788.57" x2="388.55" y2="788.57" stroke="#111" stroke-width="1.4" />
<line x1="406.50" y1="713.00" x2="406.50" y2="717.69" stroke="#111" stroke-width="1.3" />
<line x1="401.30" y1="713.00" x2="411.70" y2="713.00" stroke="#111" stroke-width="1.4" />
<line x1="401.30" y1="717.69" x2="411.70" y2="717.69" stroke="#111" stroke-width="1.4" />
<line x1="435.50" y1="759.54" x2="435.50" y2="760.82" stroke="#111" stroke-width="1.3" />
<line x1="430.30" y1="759.54" x2="440.70" y2="759.54" stroke="#111" stroke-width="1.4" />
<line x1="430.30" y1="760.82" x2="440.70" y2="760.82" stroke="#111" stroke-width="1.4" />
<line x1="458.55" y1="760.39" x2="458.55" y2="761.67" stroke="#111" stroke-width="1.3" />
<line x1="453.35" y1="760.39" x2="463.75" y2="760.39" stroke="#111" stroke-width="1.4" />
<line x1="453.35" y1="761.67" x2="463.75" y2="761.67" stroke="#111" stroke-width="1.4" />
<line x1="487.55" y1="808.00" x2="487.55" y2="810.99" stroke="#111" stroke-width="1.3" />
<line x1="482.35" y1="808.00" x2="492.75" y2="808.00" stroke="#111" stroke-width="1.4" />
<line x1="482.35" y1="810.99" x2="492.75" y2="810.99" stroke="#111" stroke-width="1.4" />
<line x1="510.30" y1="739.90" x2="510.30" y2="744.59" stroke="#111" stroke-width="1.3" />
<line x1="505.10" y1="739.90" x2="515.50" y2="739.90" stroke="#111" stroke-width="1.4" />
<line x1="505.10" y1="744.59" x2="515.50" y2="744.59" stroke="#111" stroke-width="1.4" />
<line x1="539.60" y1="773.84" x2="539.60" y2="786.23" stroke="#111" stroke-width="1.3" />
<line x1="534.40" y1="773.84" x2="544.80" y2="773.84" stroke="#111" stroke-width="1.4" />
<line x1="534.40" y1="786.23" x2="544.80" y2="786.23" stroke="#111" stroke-width="1.4" />
<line x1="562.60" y1="753.99" x2="562.60" y2="755.27" stroke="#111" stroke-width="1.3" />
<line x1="557.40" y1="753.99" x2="567.80" y2="753.99" stroke="#111" stroke-width="1.4" />
<line x1="557.40" y1="755.27" x2="567.80" y2="755.27" stroke="#111" stroke-width="1.4" />
<line x1="591.55" y1="799.46" x2="591.55" y2="800.74" stroke="#111" stroke-width="1.3" />
<line x1="586.35" y1="799.46" x2="596.75" y2="799.46" stroke="#111" stroke-width="1.4" />
<line x1="586.35" y1="800.74" x2="596.75" y2="800.74" stroke="#111" stroke-width="1.4" />
<line x1="614.80" y1="753.99" x2="614.80" y2="755.27" stroke="#111" stroke-width="1.3" />
<line x1="609.60" y1="753.99" x2="620.00" y2="753.99" stroke="#111" stroke-width="1.4" />
<line x1="609.60" y1="755.27" x2="620.00" y2="755.27" stroke="#111" stroke-width="1.4" />
<line x1="370.20" y1="692.00" x2="370.20" y2="863.90" stroke="#555" stroke-width="1.2" />
<line x1="369.40" y1="863.30" x2="626.40" y2="863.30" stroke="#555" stroke-width="1.3" />
<line x1="367.80" y1="863.30" x2="370.00" y2="863.30" stroke="#555" stroke-width="1.2" />
<text x="365.40" y="867.60" font-size="12" font-weight="bold" text-anchor="end" fill="#000" textLength="6.00" lengthAdjust="spacingAndGlyphs" >0</text>
<line x1="367.80" y1="820.60" x2="370.00" y2="820.60" stroke="#555" stroke-width="1.2" />
<text x="365.40" y="824.90" font-size="12" font-weight="bold" text-anchor="end" fill="#000" textLength="12.00" lengthAdjust="spacingAndGlyphs" >20</text>
<line x1="367.80" y1="777.90" x2="370.00" y2="777.90" stroke="#555" stroke-width="1.2" />
<text x="365.40" y="782.20" font-size="12" font-weight="bold" text-anchor="end" fill="#000" textLength="12.00" lengthAdjust="spacingAndGlyphs" >40</text>
<line x1="367.80" y1="735.20" x2="370.00" y2="735.20" stroke="#555" stroke-width="1.2" />
<text x="365.40" y="739.50" font-size="12" font-weight="bold" text-anchor="end" fill="#000" textLength="12.00" lengthAdjust="spacingAndGlyphs" >60</text>
<line x1="367.80" y1="692.50" x2="370.00" y2="692.50" stroke="#555" stroke-width="1.2" />
<text x="365.40" y="696.80" font-size="12" font-weight="bold" text-anchor="end" fill="#000" textLength="12.00" lengthAdjust="spacingAndGlyphs" >80</text>
<line x1="395.10" y1="863.30" x2="395.10" y2="865.60" stroke="#555" stroke-width="1.2" />
<text x="395.10" y="876.40" font-size="10.8" font-weight="bold" text-anchor="middle" fill="#000" textLength="14.20" lengthAdjust="spacingAndGlyphs" >G2</text>
<line x1="447.05" y1="863.30" x2="447.05" y2="865.60" stroke="#555" stroke-width="1.2" />
<text x="447.05" y="876.40" font-size="10.8" font-weight="bold" text-anchor="middle" fill="#000" textLength="14.20" lengthAdjust="spacingAndGlyphs" >G3</text>
<line x1="499.00" y1="863.30" x2="499.00" y2="865.60" stroke="#555" stroke-width="1.2" />
<text x="499.00" y="876.40" font-size="10.8" font-weight="bold" text-anchor="middle" fill="#000" textLength="14.20" lengthAdjust="spacingAndGlyphs" >G4</text>
<line x1="550.95" y1="863.30" x2="550.95" y2="865.60" stroke="#555" stroke-width="1.2" />
<text x="550.95" y="876.40" font-size="10.8" font-weight="bold" text-anchor="middle" fill="#000" textLength="14.20" lengthAdjust="spacingAndGlyphs" >G5</text>
<line x1="602.90" y1="863.30" x2="602.90" y2="865.60" stroke="#555" stroke-width="1.2" />
<text x="602.90" y="876.40" font-size="10.8" font-weight="bold" text-anchor="middle" fill="#000" textLength="14.20" lengthAdjust="spacingAndGlyphs" >G6</text>
<text x="503.00" y="894.90" font-size="14.4" text-anchor="middle" fill="#000" textLength="62.60" lengthAdjust="spacingAndGlyphs" >Oligomers</text>
<text transform="translate(344.9,842.4) rotate(-90)" x="0" y="0" font-size="14" fill="#000" textLength="150.0" lengthAdjust="spacingAndGlyphs">Relative abundance (%)</text>
<rect x="554.6" y="699.3" width="6.4" height="7.6" fill="#6e6e6e" stroke="#222" stroke-width="0.9"/>
<rect x="554.6" y="713.4" width="6.4" height="8.4" fill="#ececec" stroke="#444" stroke-width="0.9"/>
<text x="566.00" y="706.70" font-size="10.8" text-anchor="start" fill="#222" textLength="39.40" lengthAdjust="spacingAndGlyphs" >Glucose</text>
<text x="566.00" y="721.50" font-size="10.8" text-anchor="start" fill="#222" textLength="50.80" lengthAdjust="spacingAndGlyphs" >Cellobiose</text>
</svg>
</body></html>
